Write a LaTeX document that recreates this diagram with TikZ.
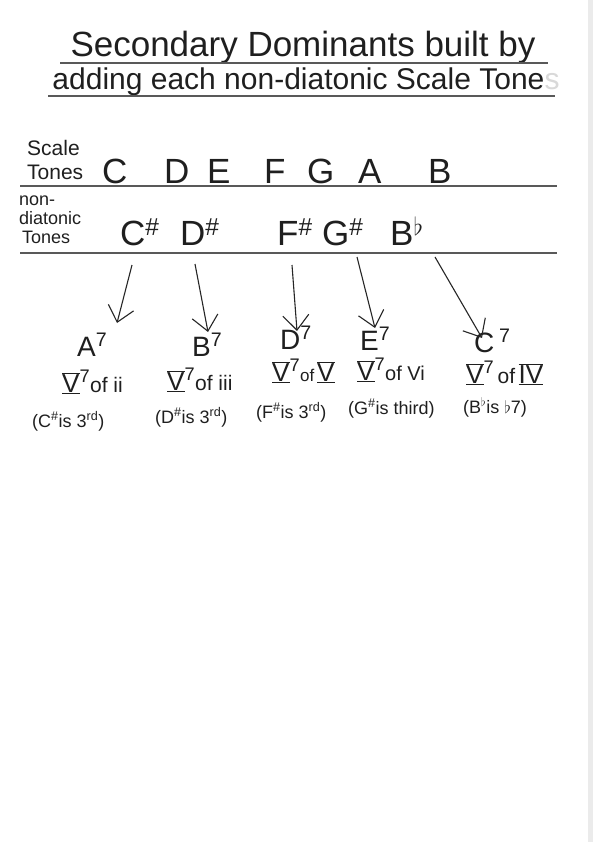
\documentclass[tikz,border=0pt]{standalone}
\usepackage{fontspec}
\setmainfont{Liberation Sans}
\usetikzlibrary{arrows.meta}
\newcommand\romnum[1]{$\overline{\underline{\mbox{#1}}}$}
\newcommand\shp{\textsuperscript{\#}}
\newcommand\flt{$^{\flat}$}
\begin{document}
\begin{tikzpicture}[x=1pt,y=-1pt,
  every node/.style={text=black!88, inner sep=0pt},
  rule/.style={draw=black!65, line width=1.2pt},
  arr/.style={draw=black!85, line width=1.1pt,
     -{Straight Barb[length=15pt,width=26pt,line width=1.1pt]}},
  titletext/.style={font=\fontsize{#1}{#1}\selectfont},
  rowlabel/.style={font=\fontsize{19}{22}\selectfont, align=left, anchor=north west},
  note/.style={font=\fontsize{35}{35}\selectfont, anchor=base west},
  chord/.style={font=\fontsize{28}{28}\selectfont, anchor=base west},
  func/.style={font=\fontsize{26}{26}\selectfont, anchor=base west},
  paren/.style={font=\fontsize{18}{18}\selectfont, anchor=base west}
]
\fill[white] (0,0) rectangle (593,842);
\fill[black!8] (588,0) rectangle (593,842);
\useasboundingbox (0,0) rectangle (593,842);

% title
\node[titletext=35, anchor=base] (t1) at (303,57) {Secondary Dominants built by};
\node[titletext=30, anchor=base] (t2) at (306,90) {adding each non-diatonic Scale Tone\textcolor{black!15}{s}};
\draw[rule] (60,63) -- (548,63);
\draw[rule] (48,96) -- (555,96);

% scale tones row
\node[rowlabel, font=\fontsize{21}{24}\selectfont] (lab1) at (27,140) {Scale\\Tones};
\node[note] (nC) at (102,184) {C};
\node[note] (nD) at (164,184) {D};
\node[note] (nE) at (207,184) {E};
\node[note] (nF) at (264,184) {F};
\node[note] (nG) at (307,184) {G};
\node[note] (nA) at (358,184) {A};
\node[note] (nB) at (428,184) {B};
\draw[rule] (20,186) -- (557,186);

% non-diatonic row
\node[rowlabel, font=\fontsize{18}{19}\selectfont] (lab2) at (19,196) {non-\\diatonic\\\,Tones};
\node[note] (cs) at (120,245) {C\shp};
\node[note] (ds) at (180,245) {D\shp};
\node[note] (fs) at (277,245) {F\shp};
\node[note] (gs) at (322,245) {G\shp};
\node[note] (bb) at (390,245) {B\flt};
\draw[rule] (20,253) -- (557,253);

% chords
\node[chord] (a7) at (77,356) {A\textsuperscript{7}};
\node[chord] (b7) at (192,356) {B\textsuperscript{7}};
\node[chord] (d7) at (280,349) {D\textsuperscript{7}};
\node[chord] (e7) at (360,350) {E\textsuperscript{7}};
\node[chord] (c7) at (474,352) {C\,\textsuperscript{7}};

% arrows
\coordinate (s1) at (132,265); \coordinate (e1) at (117,323);
\coordinate (s2) at (195,264); \coordinate (e2) at (208,332);
\coordinate (s3) at (292,265); \coordinate (e3) at (297,331);
\coordinate (s4) at (357,257); \coordinate (e4) at (375,328);
\coordinate (s5) at (435,257); \coordinate (e5) at (482,338);
\draw[arr] (s1) -- (e1);
\draw[arr] (s2) -- (e2);
\draw[arr] (s3) -- (e3);
\draw[arr] (s4) -- (e4);
\draw[arr] (s5) -- (e5);

% functions
\node[func] (f1) at (62,392) {\romnum{V}\textsuperscript{7}{\fontsize{21}{21}\selectfont of ii}};
\node[func] (f2) at (167,390) {\romnum{V}\textsuperscript{7}{\fontsize{21}{21}\selectfont of iii}};
\node[func] (f3) at (272,381) {\romnum{V}\textsuperscript{7}{\fontsize{17}{17}\selectfont of\,}\romnum{V}};
\node[func] (f4) at (357,380) {\romnum{V}\textsuperscript{7}{\fontsize{20}{20}\selectfont of Vi}};
\node[func] (f5) at (466,383) {\romnum{V}\textsuperscript{7}{\fontsize{21}{21}\selectfont\,of\,}\romnum{IV}};

% notes on the added tone
\node[paren] (p1) at (32,427) {(C\shp is 3\textsuperscript{rd})};
\node[paren] (p2) at (155,423) {(D\shp is 3\textsuperscript{rd})};
\node[paren] (p3) at (256,418) {(F\shp is 3\textsuperscript{rd})};
\node[paren] (p4) at (348,414) {(G\shp is third)};
\node[paren] (p5) at (463,413) {(B\flt is $\flat$7)};
\end{tikzpicture}
\end{document}
